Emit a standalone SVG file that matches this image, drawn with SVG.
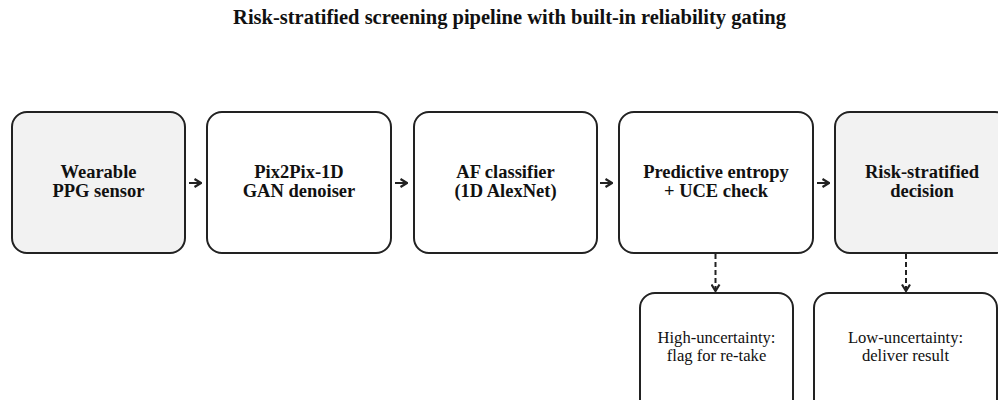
<svg xmlns="http://www.w3.org/2000/svg" width="998" height="400" viewBox="0 0 998 400">
<defs>
<marker id="ah" viewBox="0 0 10 10" refX="9" refY="5" markerWidth="10" markerHeight="10" markerUnits="userSpaceOnUse" orient="auto">
<path d="M2.5,1 L9,5 L2.5,9" fill="none" stroke="#222" stroke-width="2.2"/>
</marker>
</defs>
<style>
.box{fill:#fff;stroke:#222;stroke-width:2}
.gray{fill:#f2f2f2}
.b{font-family:"Liberation Serif","Times New Roman",serif;font-weight:bold;font-size:18.5px;fill:#111;text-anchor:middle}
.r{font-family:"Liberation Serif","Times New Roman",serif;font-size:16.6px;fill:#111;text-anchor:middle}
.t{font-family:"Liberation Serif","Times New Roman",serif;font-weight:bold;font-size:20.5px;fill:#111;text-anchor:middle}
.c{stroke:#222;stroke-width:2;fill:none}
.d{stroke-dasharray:5,3}
</style>
<rect width="998" height="400" fill="#fff"/>
<text class="t" x="509.5" y="24">Risk-stratified screening pipeline with built-in reliability gating</text>
<g id="sensor"><rect class="box gray" x="12" y="112" width="173" height="141" rx="15"/><text class="b" x="98.5" y="178">Wearable</text><text class="b" x="98.5" y="197">PPG sensor</text></g>
<g id="gan"><rect class="box" x="207" y="112" width="184" height="141" rx="15"/><text class="b" x="299" y="178">Pix2Pix-1D</text><text class="b" x="299" y="197">GAN denoiser</text></g>
<g id="classifier"><rect class="box" x="414" y="112" width="183" height="141" rx="15"/><text class="b" x="505.5" y="178">AF classifier</text><text class="b" x="505.5" y="197">(1D AlexNet)</text></g>
<g id="entropy"><rect class="box" x="619" y="112" width="194" height="141" rx="15"/><text class="b" x="716" y="178">Predictive entropy</text><text class="b" x="716" y="197">+ UCE check</text></g>
<g id="decision"><rect class="box gray" x="835" y="112" width="175" height="141" rx="15"/><text class="b" x="922" y="178">Risk-stratified</text><text class="b" x="922" y="197">decision</text></g>
<g id="high"><rect class="box" x="640" y="293" width="153" height="130" rx="15"/><text class="r" x="716.5" y="343">High-uncertainty:</text><text class="r" x="716.5" y="361">flag for re-take</text></g>
<g id="low"><rect class="box" x="814" y="293" width="183" height="130" rx="15"/><text class="r" x="905.5" y="343">Low-uncertainty:</text><text class="r" x="905.5" y="361">deliver result</text></g>
<g id="connectors">
<line class="c" x1="189" y1="183" x2="201" y2="183" marker-end="url(#ah)"/>
<line class="c" x1="395" y1="183" x2="407" y2="183" marker-end="url(#ah)"/>
<line class="c" x1="600" y1="183" x2="612" y2="183" marker-end="url(#ah)"/>
<line class="c" x1="817" y1="183" x2="829" y2="183" marker-end="url(#ah)"/>
<line class="c d" x1="715.5" y1="254" x2="715.5" y2="291" marker-end="url(#ah)"/>
<line class="c d" x1="906" y1="254" x2="906" y2="291" marker-end="url(#ah)"/>
</g>
</svg>
